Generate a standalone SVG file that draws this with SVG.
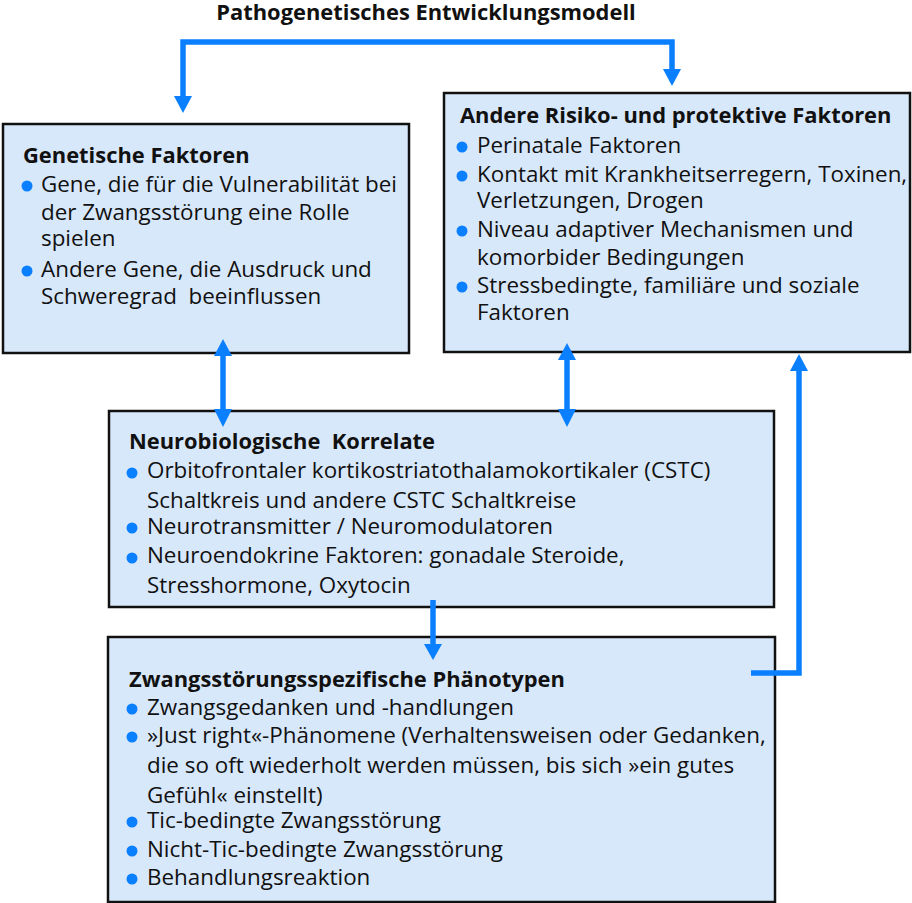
<svg xmlns="http://www.w3.org/2000/svg" width="912" height="903" viewBox="0 0 912 903">
<style>
.box{fill:#d8e8fb;stroke:#111;stroke-width:2.5}
.t{font-family:"Open Sans","Noto Sans",sans-serif;font-size:22.4px;fill:#111}
.h{font-family:"Open Sans","Noto Sans",sans-serif;font-size:21.9px;font-weight:bold;fill:#111}
.b{fill:#0a7fff}
.c{stroke:#0a7fff;stroke-width:5.5;fill:none}
.ah{fill:#0a7fff}
</style>
<rect width="912" height="903" fill="#fff"/>
<text class="h" x="426" y="20" text-anchor="middle">Pathogenetisches Entwicklungsmodell</text>
<g id="genetische">
  <rect class="box" x="3" y="124" width="406" height="229"/>
  <text class="h" x="23" y="163">Genetische Faktoren</text>
  <circle class="b" cx="27" cy="186" r="5.5"/>
  <circle class="b" cx="27" cy="271" r="5.5"/>
  <text class="t" x="41" y="192">Gene, die für die Vulnerabilität bei</text>
  <text class="t" x="41" y="220">der Zwangsstörung eine Rolle</text>
  <text class="t" x="41" y="246">spielen</text>
  <text class="t" x="41" y="277">Andere Gene, die Ausdruck und</text>
  <text class="t" x="41" y="304" xml:space="preserve">Schweregrad  beeinflussen</text>
</g>
<g id="andere">
  <rect class="box" x="444" y="93" width="466" height="259"/>
  <text class="h" x="460" y="123">Andere Risiko- und protektive Faktoren</text>
  <circle class="b" cx="462" cy="147" r="5.5"/>
  <circle class="b" cx="462" cy="176" r="5.5"/>
  <circle class="b" cx="462" cy="231" r="5.5"/>
  <circle class="b" cx="462" cy="287" r="5.5"/>
  <text class="t" x="477" y="153">Perinatale Faktoren</text>
  <text class="t" x="477" y="182">Kontakt mit Krankheitserregern, Toxinen,</text>
  <text class="t" x="477" y="208">Verletzungen, Drogen</text>
  <text class="t" x="477" y="237">Niveau adaptiver Mechanismen und</text>
  <text class="t" x="477" y="265">komorbider Bedingungen</text>
  <text class="t" x="477" y="293">Stressbedingte, familiäre und soziale</text>
  <text class="t" x="477" y="320">Faktoren</text>
</g>
<g id="neuro">
  <rect class="box" x="109" y="411" width="665" height="196"/>
  <text class="h" x="129" y="449" xml:space="preserve">Neurobiologische  Korrelate</text>
  <circle class="b" cx="132" cy="473" r="5.5"/>
  <circle class="b" cx="132" cy="528" r="5.5"/>
  <circle class="b" cx="132" cy="558" r="5.5"/>
  <text class="t" x="147" y="478">Orbitofrontaler kortikostriatothalamokortikaler (CSTC)</text>
  <text class="t" x="147" y="508">Schaltkreis und andere CSTC Schaltkreise</text>
  <text class="t" x="147" y="534">Neurotransmitter / Neuromodulatoren</text>
  <text class="t" x="147" y="563">Neuroendokrine Faktoren: gonadale Steroide,</text>
  <text class="t" x="147" y="593">Stresshormone, Oxytocin</text>
</g>
<g id="phaenotypen">
  <rect class="box" x="108" y="637" width="667" height="265"/>
  <text class="h" x="129" y="687">Zwangsstörungsspezifische Phänotypen</text>
  <circle class="b" cx="132" cy="709" r="5.5"/>
  <circle class="b" cx="132" cy="737" r="5.5"/>
  <circle class="b" cx="132" cy="822" r="5.5"/>
  <circle class="b" cx="132" cy="851" r="5.5"/>
  <circle class="b" cx="132" cy="879" r="5.5"/>
  <text class="t" x="147" y="715">Zwangsgedanken und -handlungen</text>
  <text class="t" x="147" y="743">»Just right«-Phänomene (Verhaltensweisen oder Gedanken,</text>
  <text class="t" x="147" y="773">die so oft wiederholt werden müssen, bis sich »ein gutes</text>
  <text class="t" x="147" y="803">Gefühl« einstellt)</text>
  <text class="t" x="147" y="828">Tic-bedingte Zwangsstörung</text>
  <text class="t" x="147" y="857">Nicht-Tic-bedingte Zwangsstörung</text>
  <text class="t" x="147" y="885">Behandlungsreaktion</text>
</g>
<g id="connectors">
  <path class="c" d="M183,96 V42 H672 V70"/>
  <polygon class="ah" points="174,96 192,96 183,113"/>
  <polygon class="ah" points="663,69 681,69 672,86"/>
  <line class="c" x1="223" y1="352" x2="223" y2="412"/>
  <polygon class="ah" points="214,356 232,356 223,339"/>
  <polygon class="ah" points="214,409 232,409 223,427"/>
  <line class="c" x1="567" y1="356" x2="567" y2="412"/>
  <polygon class="ah" points="558,360 576,360 567,343"/>
  <polygon class="ah" points="558,409 576,409 567,427"/>
  <line class="c" x1="433" y1="600" x2="433" y2="646"/>
  <polygon class="ah" points="424,644 442,644 433,660"/>
  <path class="c" d="M751,673 H799 V368"/>
  <polygon class="ah" points="790,371 808,371 799,354"/>
</g>
</svg>
